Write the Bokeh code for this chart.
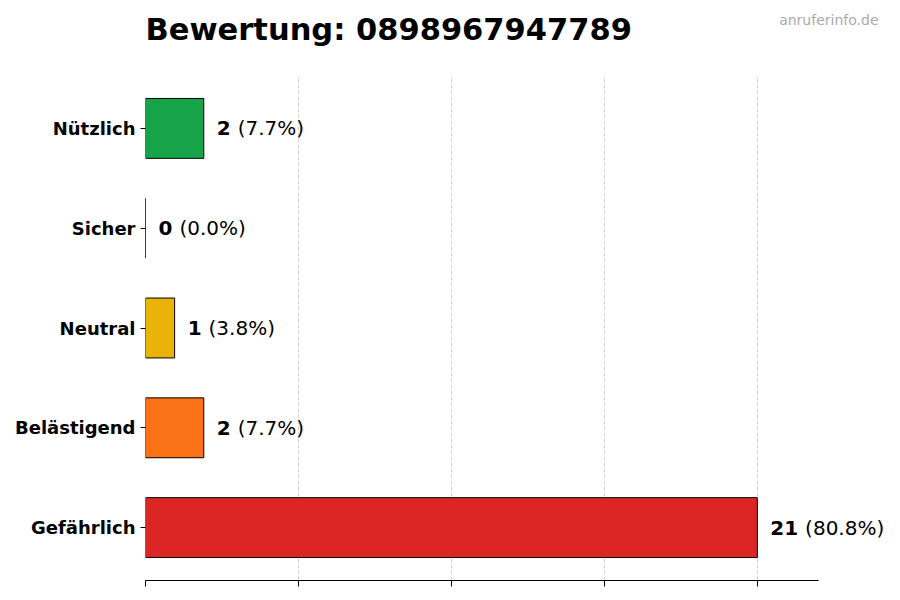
from bokeh.plotting import figure
from bokeh.models import ColumnDataSource, Range1d, FixedTicker, Title
from bokeh.core.properties import value
from bokeh.embed import file_html
from bokeh.resources import INLINE

# Bewertungen (von unten nach oben)
categories = ["Gefährlich", "Belästigend", "Neutral", "Sicher", "Nützlich"]
counts = [21, 2, 1, 0, 2]
colors = ["#dc2626", "#f97316", "#eab308", "#3b82f6", "#16a34a"]
phone = "0898967947789"

total = sum(counts)
max_val = max(counts)
pos = list(range(len(categories)))
num_txt = [str(c) for c in counts]
pct_txt = ["(%.1f%%)" % (100.0 * c / total) for c in counts]
# Prozent-Text hinter der fetten Zahl platzieren
pct_off = [13 + 13.9 * len(t) + 7 for t in num_txt]

source = ColumnDataSource(data=dict(
    y=pos, cnt=counts, color=colors, num=num_txt, pct=pct_txt, pct_off=pct_off,
))

FONT = "DejaVu Sans"
x_end = max_val * 1.1
# Zeichenfläche breiter als die Achse, damit die Werte rechts Platz haben
frame_w, axis_w = 750, 673

p = figure(width=900, height=600, output_backend="svg", toolbar_location=None,
           x_range=Range1d(0, x_end * frame_w / axis_w), y_range=Range1d(-0.53, 4.53),
           min_border_left=145, min_border_right=900 - 145 - frame_w,
           min_border_top=75, min_border_bottom=20)
p.outline_line_color = None
p.background_fill_color = "white"
p.border_fill_color = "white"

p.hbar(y="y", left=0, right="cnt", height=0.6, fill_color="color", line_color="black",
       line_width=1, source=source)

p.text(x="cnt", y="y", text="num", x_offset=13, text_font=value(FONT), text_font_style="bold",
       text_font_size="20px", text_baseline="middle", text_color="black", source=source)
p.text(x="cnt", y="y", text="pct", x_offset="pct_off", text_font=value(FONT),
       text_font_size="20px", text_baseline="middle", text_color="black", source=source)

# x-Achse: nur Linie und Striche
p.xaxis.ticker = FixedTicker(ticks=[max_val * i / 4 for i in range(5)])
p.xaxis.bounds = (0, x_end)
p.xaxis.major_label_text_font_size = "0px"
p.xaxis.major_label_standoff = 0
p.xaxis.major_tick_in = 0
p.xaxis.major_tick_out = 6
p.xaxis.minor_tick_line_color = None
p.xaxis.axis_line_color = "black"
p.xaxis.major_tick_line_color = "black"

# y-Achse: Kategorien
p.yaxis.ticker = FixedTicker(ticks=pos)
p.yaxis.major_label_overrides = {i: c for i, c in zip(pos, categories)}
p.yaxis.axis_line_color = None
p.yaxis.major_tick_in = 0
p.yaxis.major_tick_out = 5
p.yaxis.minor_tick_line_color = None
p.yaxis.major_label_standoff = 5
p.yaxis.major_label_text_font = FONT
p.yaxis.major_label_text_font_style = "bold"
p.yaxis.major_label_text_font_size = "18px"
p.yaxis.major_label_text_color = "black"

p.ygrid.grid_line_color = None
p.xgrid.grid_line_color = "#d4d4d4"
p.xgrid.grid_line_dash = "4 2"
p.xgrid.grid_line_width = 1

# Wasserzeichen oben rechts (äußerster Titel, ragt in den Haupttitel hinein)
p.title.text = "anruferinfo.de"
p.title.text_font = FONT
p.title.text_font_style = "normal"
p.title.text_font_size = "14px"
p.title.text_color = "#aaaaaa"
p.title.align = "right"
p.title.offset = 17
p.title.standoff = -36

# Abstand zwischen Zeichenfläche und Haupttitel
p.add_layout(Title(text=" ", text_font_size="10px", standoff=16), "above")
p.add_layout(Title(text="Bewertung: " + phone, align="left", offset=0, standoff=0,
                   text_font=FONT, text_font_style="bold", text_font_size="30.5px",
                   text_color="black"), "above")

open("out.html", "w").write(file_html(p, INLINE))
